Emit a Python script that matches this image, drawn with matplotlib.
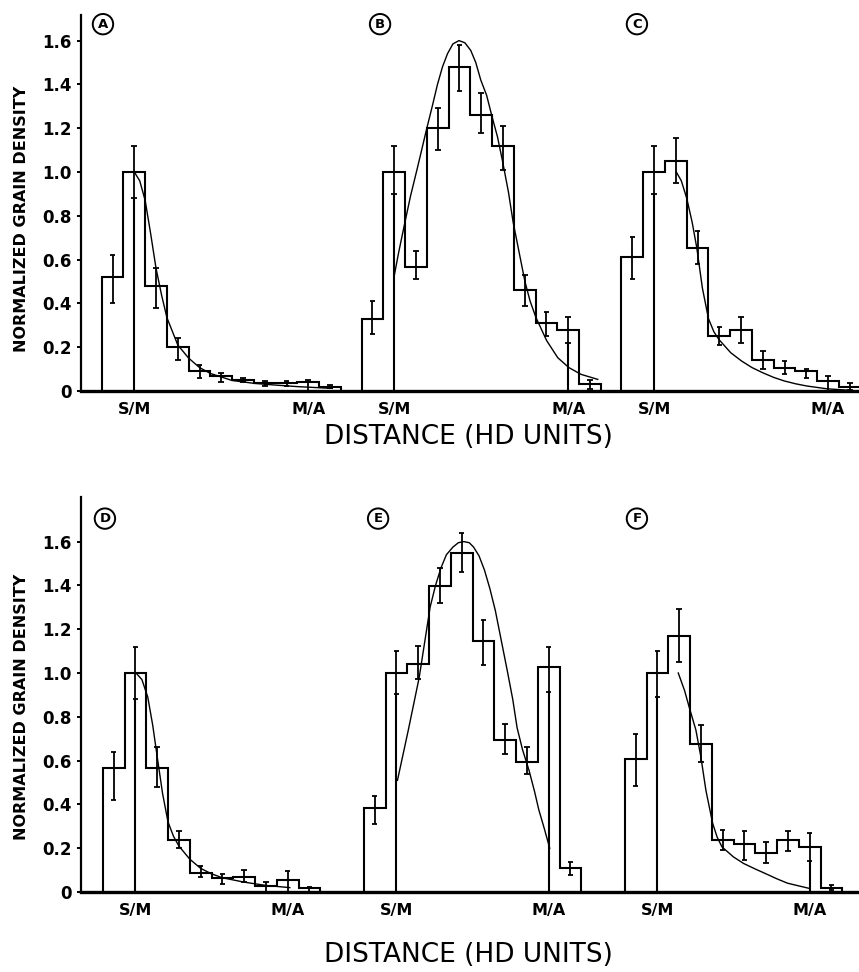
import matplotlib
matplotlib.use("Agg")
import matplotlib.pyplot as plt
import numpy as np

# ---------------- data (x in HD bin units, bin i spans [i, i+1]) ----------------
a_vals = [0.52, 1.0, 0.48, 0.20, 0.09, 0.07, 0.05, 0.035, 0.035, 0.04, 0.02]
a_lo   = [0.40, 0.88, 0.38, 0.14, 0.06, 0.04, 0.04, 0.025, 0.025, 0.0, 0.012]
a_hi   = [0.62, 1.12, 0.56, 0.24, 0.12, 0.08, 0.06, 0.045, 0.045, 0.05, 0.028]
a_curve_x = [1.5, 1.75, 2.0, 2.25, 2.5, 2.75, 3.0, 3.5, 4.0, 4.5, 5.0, 6.0, 7.0, 8.0, 9.0, 10.0, 10.6]
a_curve_y = [1.0, 0.96, 0.87, 0.72, 0.56, 0.44, 0.335, 0.21, 0.15, 0.107, 0.08, 0.048, 0.035, 0.027, 0.02, 0.015, 0.012]

b_vals = [0.33, 1.0, 0.565, 1.20, 1.48, 1.26, 1.12, 0.46, 0.31, 0.28, 0.03]
b_lo   = [0.26, 0.90, 0.51, 1.10, 1.37, 1.18, 1.01, 0.39, 0.25, 0.22, 0.01]
b_hi   = [0.41, 1.12, 0.64, 1.29, 1.58, 1.36, 1.21, 0.53, 0.36, 0.34, 0.05]
b_curve_x = [1.49, 1.7, 1.95, 2.25, 2.57, 3.0, 3.25, 3.49, 3.72, 3.95, 4.2, 4.48, 4.75, 5.02, 5.25, 5.48, 5.75,
             5.98, 6.25, 6.48, 6.75, 6.97, 7.25, 7.51, 7.75, 8.02, 8.51, 9.02, 9.53, 10.09, 10.86]
b_curve_y = [0.52, 0.63, 0.75, 0.89, 1.02, 1.2, 1.30, 1.40, 1.48, 1.54, 1.585, 1.60, 1.59, 1.555, 1.50, 1.42, 1.35,
             1.26, 1.16, 1.05, 0.91, 0.77, 0.63, 0.50, 0.41, 0.335, 0.23, 0.152, 0.107, 0.076, 0.053]

c_vals = [0.61, 1.0, 1.05, 0.655, 0.25, 0.28, 0.14, 0.107, 0.09, 0.046, 0.02]
c_lo   = [0.51, 0.90, 0.95, 0.58, 0.21, 0.22, 0.10, 0.076, 0.06, 0.0, 0.005]
c_hi   = [0.705, 1.12, 1.153, 0.73, 0.29, 0.34, 0.183, 0.137, 0.10, 0.07, 0.035]
c_curve_x = [2.52, 2.75, 3.0, 3.25, 3.46, 3.72, 4.0, 4.25, 4.48, 5.02, 5.52, 6.0, 6.48, 7.0, 7.48, 8.0, 8.51, 9.45, 10.37]
c_curve_y = [1.0, 0.96, 0.88, 0.77, 0.655, 0.47, 0.33, 0.27, 0.235, 0.175, 0.137, 0.107, 0.084, 0.062, 0.046, 0.033, 0.023, 0.01, 0.004]

d_vals = [0.564, 1.0, 0.564, 0.237, 0.088, 0.065, 0.07, 0.027, 0.055, 0.017]
d_lo   = [0.42, 0.88, 0.48, 0.20, 0.07, 0.035, 0.047, 0.0, 0.0, 0.0]
d_hi   = [0.64, 1.118, 0.662, 0.28, 0.12, 0.08, 0.10, 0.047, 0.097, 0.023]
d_curve_x = [1.53, 1.8, 2.07, 2.3, 2.5, 2.75, 3.0, 3.25, 3.5, 4.0, 4.5, 5.0, 5.5, 6.5, 7.5, 8.6]
d_curve_y = [1.0, 0.97, 0.89, 0.76, 0.62, 0.45, 0.32, 0.255, 0.21, 0.15, 0.108, 0.083, 0.065, 0.045, 0.03, 0.02]

e_vals = [0.384, 1.0, 1.04, 1.395, 1.546, 1.144, 0.693, 0.594, 1.027, 0.108]
e_lo   = [0.31, 0.905, 0.974, 1.32, 1.46, 1.035, 0.632, 0.541, 0.913, 0.077]
e_hi   = [0.44, 1.10, 1.125, 1.48, 1.64, 1.243, 0.769, 0.662, 1.118, 0.138]
e_curve_x = [1.55, 2.05, 2.55, 3.05, 3.3, 3.55, 3.8, 4.1, 4.35, 4.6, 4.85, 5.05, 5.3, 5.55, 5.8, 6.05, 6.3,
             6.6, 6.85, 7.05, 7.3, 7.6, 7.85, 8.05, 8.3, 8.55]
e_curve_y = [0.51, 0.74, 0.98, 1.30, 1.40, 1.48, 1.54, 1.575, 1.595, 1.60, 1.595, 1.575, 1.535, 1.47, 1.385, 1.285, 1.16,
             1.01, 0.88, 0.75, 0.65, 0.555, 0.46, 0.375, 0.29, 0.2]

f_vals = [0.609, 1.0, 1.167, 0.678, 0.237, 0.217, 0.176, 0.237, 0.206, 0.017]
f_lo   = [0.483, 0.89, 1.05, 0.594, 0.19, 0.146, 0.134, 0.187, 0.141, 0.01]
f_hi   = [0.723, 1.10, 1.293, 0.761, 0.283, 0.278, 0.227, 0.278, 0.27, 0.03]
f_curve_x = [2.46, 2.75, 2.96, 3.27, 3.5, 3.73, 4.04, 4.25, 4.47, 5.0, 5.47, 6.0, 6.45, 7.0, 7.49, 8.46]
f_curve_y = [1.0, 0.92, 0.845, 0.74, 0.617, 0.465, 0.314, 0.25, 0.206, 0.16, 0.13, 0.105, 0.085, 0.06, 0.04, 0.017]

panel_letters = ["A", "B", "C", "D", "E", "F"]
sm_bin = [1, 1, 1, 1, 1, 1]      # bin index of S/M marker
ma_bin = [9, 9, 9, 8, 8, 8]      # bin index of M/A marker
y_ticks = [0, 0.2, 0.4, 0.6, 0.8, 1.0, 1.2, 1.4, 1.6]
y_tick_labels = ["0", "0.2", "0.4", "0.6", "0.8", "1.0", "1.2", "1.4", "1.6"]

# ---------------- layout ----------------
W, H = 859, 972
fig = plt.figure(figsize=(W / 100, H / 100), dpi=100)

BINW = 21.75  # px per bin
rows = [
    dict(bottom=391, top=15, offsets=[0.95, 12.9, 24.85], letter_dx=[0.06, 0.85, 0.71], letter_y=1.675,
         panels=[0, 1, 2], xlabel_y=437, ylabel_y=219),
    dict(bottom=892, top=497, offsets=[1.0, 13.0, 25.0], letter_dx=[0.1, 0.66, 0.56], letter_y=1.705,
         panels=[3, 4, 5], xlabel_y=955, ylabel_y=707),
]
all_vals = [a_vals, b_vals, c_vals, d_vals, e_vals, f_vals]
all_lo = [a_lo, b_lo, c_lo, d_lo, e_lo, f_lo]
all_hi = [a_hi, b_hi, c_hi, d_hi, e_hi, f_hi]
all_cx = [a_curve_x, b_curve_x, c_curve_x, d_curve_x, e_curve_x, f_curve_x]
all_cy = [a_curve_y, b_curve_y, c_curve_y, d_curve_y, e_curve_y, f_curve_y]

left_px, right_px = 81, 858
bold = dict(fontweight="bold", family="DejaVu Sans")

for row in rows:
    ax_h = row["bottom"] - row["top"]
    ax = fig.add_axes([left_px / W, 1 - row["bottom"] / H, (right_px - left_px) / W, ax_h / H])
    px_per_unit = 219.0
    ax.set_ylim(0, ax_h / px_per_unit)
    ax.set_xlim(0, (right_px - left_px) / BINW)
    for sp in ["top", "right"]:
        ax.spines[sp].set_visible(False)
    ax.spines["left"].set_linewidth(1.6)
    ax.spines["bottom"].set_linewidth(2.4)
    ax.set_yticks(y_ticks)
    ax.set_yticklabels(y_tick_labels, fontsize=12, **bold)
    ax.tick_params(axis="y", direction="out", length=3, width=1.4, pad=4)

    xt, xl = [], []
    for k, p in enumerate(row["panels"]):
        off = row["offsets"][k]
        vals = np.array(all_vals[p])
        lo = np.array(all_lo[p])
        hi = np.array(all_hi[p])
        n = len(vals)
        edges = off + np.arange(n + 1)
        centers = off + np.arange(n) + 0.5
        ax.stairs(vals, edges, baseline=0, color="black", lw=1.5, clip_on=False)
        # error bars
        ax.vlines(centers, lo, hi, color="black", lw=1.3)
        ax.hlines(lo, centers - 0.13, centers + 0.13, color="black", lw=1.3)
        ax.hlines(hi, centers - 0.13, centers + 0.13, color="black", lw=1.3)
        # S/M and M/A marker lines
        for b in (sm_bin[p], ma_bin[p]):
            ax.vlines(centers[b], 0, lo[b], color="black", lw=1.5)
        # fitted curve
        ax.plot(off + np.array(all_cx[p]), all_cy[p], color="black", lw=1.0)
        xt += [centers[sm_bin[p]], centers[ma_bin[p]]]
        xl += ["S/M", "M/A"]
        # circled panel letter
        ax.text(off + row["letter_dx"][k], row["letter_y"], panel_letters[p], ha="center", va="center",
                fontsize=9.5, fontweight="bold",
                bbox=dict(boxstyle="circle,pad=0.28", fc="white", ec="black", lw=1.4), clip_on=False)

    ax.set_xticks(xt)
    ax.set_xticklabels(xl, fontsize=11.5, **bold)
    ax.tick_params(axis="x", length=0, pad=8)

    fig.text(468 / W, 1 - row["xlabel_y"] / H, "DISTANCE (HD UNITS)", ha="center", va="center",
             fontsize=19, family="DejaVu Sans")
    fig.text(22 / W, 1 - row["ylabel_y"] / H, "NORMALIZED GRAIN DENSITY", ha="center", va="center",
             rotation=90, fontsize=11.5, **bold)

fig.savefig("out.png", dpi=100)
